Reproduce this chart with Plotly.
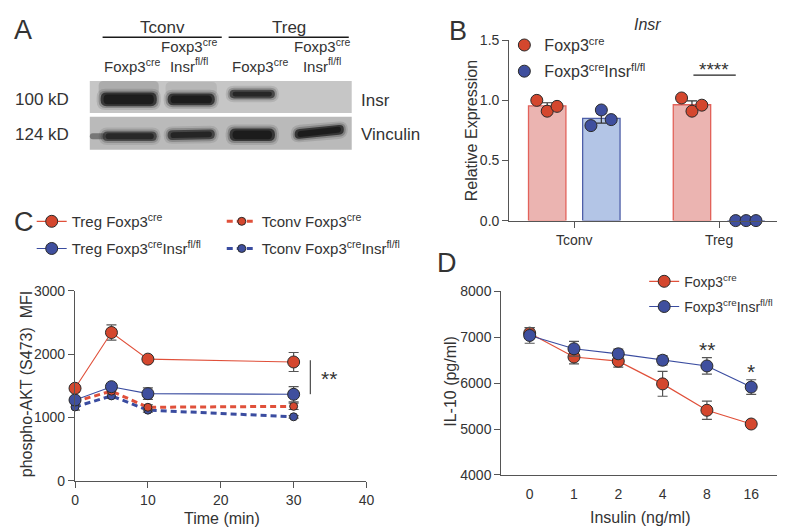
import plotly.graph_objects as go

W, H = 785, 528
FONT = "Liberation Sans, Arial, sans-serif"
TXT = "#333333"
AX = "#555555"
RED = "#d4472e"
RED_LINE = "#e0503a"
BLUE = "#3f4f9e"
BLUE_LINE = "#3a4ca0"
RED_BAR = "#ebb4b1"
RED_BAR_LINE = "#e2625a"
BLUE_BAR = "#b3c5e6"
BLUE_BAR_LINE = "#4e5fa8"


def px(x):
    return x / W


def py(y):
    return 1 - y / H


# ---------------- data ----------------
# Panel B
b_groups = ["Tconv", "Treg"]
b_cre_points = [[1.00, 0.91, 0.95], [1.02, 0.91, 0.96]]
b_ko_points = [[0.79, 0.92, 0.84], [0.0, 0.0, 0.0]]
b_cre_sem = [0.027, 0.032]
b_ko_sem = [0.040, 0.0]

# Panel C
c_time = [0, 5, 10, 30]
c_treg_cre = [1460, 2340, 1920, 1875]
c_treg_cre_sem = [60, 120, 40, 150]
c_treg_ko = [1275, 1485, 1375, 1365]
c_treg_ko_sem = [50, 40, 90, 120]
c_tconv_cre = [1250, 1415, 1160, 1175]
c_tconv_cre_sem = [50, 40, 40, 50]
c_tconv_ko = [1165, 1340, 1115, 1010]
c_tconv_ko_sem = [50, 40, 30, 20]

# Panel D
d_insulin = ["0", "1", "2", "4", "8", "16"]
d_cre = [7090, 6570, 6480, 5985, 5410, 5110]
d_cre_sem = [120, 150, 130, 270, 200, 50]
d_ko = [7040, 6750, 6640, 6500, 6375, 5915]
d_ko_sem = [170, 160, 100, 100, 180, 160]

# Panel A labels
a_groups = ["Tconv", "Treg"]
a_lanes = ["Foxp3<sup>cre</sup>", "Foxp3<sup>cre</sup><br>Insr<sup>fl/fl</sup>",
           "Foxp3<sup>cre</sup>", "Foxp3<sup>cre</sup><br>Insr<sup>fl/fl</sup>"]
a_rows = ["100 kD", "124 kD"]
a_proteins = ["Insr", "Vinculin"]

fig = go.Figure()

# ---------------- Panel B ----------------
b_off = 0.187
b_w = 0.2585
jit = [-0.072, 0.0, 0.068]
cre_mean = [sum(p) / len(p) for p in b_cre_points]
ko_mean = [sum(p) / len(p) for p in b_ko_points]
xb = list(range(len(b_groups)))

fig.add_trace(go.Bar(x=[i - b_off for i in xb], y=cre_mean, width=b_w,
                     marker=dict(color=RED_BAR, line=dict(color=RED_BAR_LINE, width=1.3)),
                     error_y=dict(type="data", array=b_cre_sem, color="#333", thickness=1.2, width=5),
                     showlegend=False, xaxis="x", yaxis="y"))
fig.add_trace(go.Bar(x=[i + b_off for i in xb], y=ko_mean, width=b_w,
                     marker=dict(color=BLUE_BAR, line=dict(color=BLUE_BAR_LINE, width=1.3)),
                     error_y=dict(type="data", array=b_ko_sem, color="#333", thickness=1.2, width=5),
                     showlegend=False, xaxis="x", yaxis="y"))
bx_cre, by_cre, bx_ko, by_ko = [], [], [], []
for i in xb:
    for j, v in enumerate(b_cre_points[i]):
        bx_cre.append(i - b_off + jit[j]); by_cre.append(v)
    for j, v in enumerate(b_ko_points[i]):
        bx_ko.append(i + b_off + jit[j]); by_ko.append(v)
fig.add_trace(go.Scatter(x=bx_cre, y=by_cre, mode="markers", name="Foxp3<sup>cre</sup>",
                         marker=dict(color=RED, size=12, line=dict(color="#2a2a2a", width=1)),
                         cliponaxis=False, legend="legend", xaxis="x", yaxis="y"))
fig.add_trace(go.Scatter(x=bx_ko, y=by_ko, mode="markers", name="Foxp3<sup>cre</sup>Insr<sup>fl/fl</sup>",
                         marker=dict(color=BLUE, size=12, line=dict(color="#2a2a2a", width=1)),
                         cliponaxis=False, legend="legend2", xaxis="x", yaxis="y"))

# ---------------- Panel C ----------------
def c_trace(y, sem, name, color, lcolor, size, dash, lw, leg):
    return go.Scatter(x=c_time, y=y, name=name, mode="lines+markers",
                      line=dict(color=lcolor, width=lw, dash=dash),
                      marker=dict(color=color, size=size, line=dict(color="#2a2a2a", width=1)),
                      error_y=dict(type="data", array=sem, color="#555", thickness=1.2, width=5),
                      cliponaxis=False, legend=leg, xaxis="x2", yaxis="y2")

fig.add_trace(c_trace(c_tconv_ko, c_tconv_ko_sem, "Tconv Foxp3<sup>cre</sup>Insr<sup>fl/fl</sup>",
                      BLUE, BLUE_LINE, 8, "6px,4px", 3, "legend6"))
fig.add_trace(c_trace(c_tconv_cre, c_tconv_cre_sem, "Tconv Foxp3<sup>cre</sup>",
                      RED, RED_LINE, 8, "6px,4px", 3, "legend5"))
fig.add_trace(c_trace(c_treg_ko, c_treg_ko_sem, "Treg Foxp3<sup>cre</sup>Insr<sup>fl/fl</sup>",
                      BLUE, BLUE_LINE, 12, "solid", 1.1, "legend4"))
fig.add_trace(c_trace(c_treg_cre, c_treg_cre_sem, "Treg Foxp3<sup>cre</sup>",
                      RED, RED_LINE, 12, "solid", 1.1, "legend3"))

# ---------------- Panel D ----------------
fig.add_trace(go.Scatter(x=d_insulin, y=d_cre, name="Foxp3<sup>cre</sup>", mode="lines+markers",
                         line=dict(color=RED_LINE, width=1.2),
                         marker=dict(color=RED, size=12, line=dict(color="#2a2a2a", width=1)),
                         error_y=dict(type="data", array=d_cre_sem, color="#555", thickness=1.2, width=5),
                         cliponaxis=False, legend="legend7", xaxis="x3", yaxis="y3"))
fig.add_trace(go.Scatter(x=d_insulin, y=d_ko, name="Foxp3<sup>cre</sup>Insr<sup>fl/fl</sup>", mode="lines+markers",
                         line=dict(color=BLUE_LINE, width=1.2),
                         marker=dict(color=BLUE, size=12, line=dict(color="#2a2a2a", width=1)),
                         error_y=dict(type="data", array=d_ko_sem, color="#555", thickness=1.2, width=5),
                         cliponaxis=False, legend="legend8", xaxis="x3", yaxis="y3"))

# ---------------- axes ----------------
axcommon = dict(showline=True, linecolor=AX, linewidth=1.3, showgrid=False, zeroline=False,
                ticks="outside", ticklen=6, tickwidth=1.2, tickcolor=AX,
                tickfont=dict(family=FONT, size=14, color=TXT))

fig.update_layout(
    xaxis=dict(axcommon, domain=[px(505), px(783)], range=[-0.449, 1.442],
               tickvals=xb, ticktext=b_groups, anchor="y"),
    yaxis=dict(axcommon, domain=[py(211), py(25)], range=[0, 1.5],
               tickvals=[0, 0.5, 1.0, 1.5], ticktext=["0.0", "0.5", "1.0", "1.5"], anchor="x"),
    xaxis2=dict(axcommon, domain=[px(64), px(360)], range=[0, 40],
                tickvals=[0, 10, 20, 30, 40], anchor="y2"),
    yaxis2=dict(axcommon, domain=[py(479.3), py(283.3)], range=[0, 3000],
                tickvals=[0, 1000, 2000, 3000], anchor="x2"),
    xaxis3=dict(axcommon, domain=[px(497), px(782)], type="category",
                categoryorder="array", categoryarray=d_insulin,
                range=[-0.638, 5.696], tickcolor="rgba(0,0,0,0)", anchor="y3"),
    yaxis3=dict(axcommon, domain=[py(473.3), py(284)], range=[4000, 8000],
                tickvals=[4000, 5000, 6000, 7000, 8000], anchor="x3"),
    barmode="overlay",
)

# ---------------- legends ----------------
def leg(mx, my, size=16):
    return dict(x=px(mx - 20), y=py(my), xanchor="left", yanchor="middle",
                bgcolor="rgba(0,0,0,0)", borderwidth=0,
                font=dict(family=FONT, size=size, color=TXT), orientation="v")


fig.update_layout(
    legend=leg(520, 30), legend2=leg(520, 57),
    legend3=leg(40, 212, 15), legend4=leg(40, 240, 15),
    legend5=leg(233, 212, 15), legend6=leg(233, 240, 15),
    legend7=leg(662, 274, 14), legend8=leg(662, 300, 14),
)

# ---------------- annotations & shapes ----------------
ann = []
shapes = []


def text(x, y, t, size=15, xanchor="center", yanchor="middle", angle=0, italic=False):
    ann.append(dict(x=px(x), y=py(y), xref="paper", yref="paper", text=t, showarrow=False,
                    xanchor=xanchor, yanchor=yanchor, textangle=angle,
                    font=dict(family=FONT, size=size, color=TXT,
                              style="italic" if italic else "normal")))


# panel letters
text(0, 14, "A", 27, xanchor="left")
text(453, 15, "B", 27)
text(0, 212, "C", 27, xanchor="left")
text(442, 255, "D", 27)

# panel B titles
text(645, 9, "Insr", 16, italic=True)
text(467, 118, "Relative Expression", 16, angle=-90)
shapes.append(dict(type="line", xref="paper", yref="paper", x0=px(692), x1=px(735),
                   y0=py(61), y1=py(61), line=dict(color="#222", width=1.3)))
text(713, 55, "****", 19)

# panel C titles
text(15, 380, "phospho-AKT (S473)\u00a0\u00a0MFI", 16, angle=-90)
text(213, 518, "Time (min)", 16)
shapes.append(dict(type="line", xref="paper", yref="paper", x0=px(303), x1=px(303),
                   y0=py(355), y1=py(390), line=dict(color=AX, width=1.3)))
text(322, 374, "**", 21)

# panel D titles
text(445, 377, "IL-10 (pg/ml)", 16, angle=-90)
text(638, 517, "Insulin (ng/ml)", 16)
text(706, 344, "**", 21)
text(750, 367, "*", 21)

# ---------------- panel A (western blot) ----------------
group_x = [(92, 213), (220, 342)]
for (x0, x1), g in zip(group_x, a_groups):
    text((x0 + x1) / 2, 12, g, 17)
    shapes.append(dict(type="line", xref="paper", yref="paper", x0=px(x0), x1=px(x1),
                       y0=py(22), y1=py(22), line=dict(color="#1a1a1a", width=1.5)))
lane_x = [122, 180, 252, 315]
for lx, lab in zip(lane_x, a_lanes):
    text(lx, 63, lab, 15, yanchor="bottom")
for yy, lab in zip([86, 122], a_rows):
    text(60, yy, lab, 17, xanchor="right")
for yy, lab in zip([87, 122], a_proteins):
    text(352, yy, lab, 17, xanchor="left")


def rrect(x0, y0, x1, y1, r, color, op, tilt=0.0):
    # rounded rectangle (pixel coords), optional tilt: right end shifted up by tilt px
    r = min(r, (y1 - y0) / 2, (x1 - x0) / 2)

    def P(x, y):
        t = (x - x0) / (x1 - x0) if x1 > x0 else 0
        return f"{px(x):.5f},{py(y - tilt * t):.5f}"
    path = (f"M{P(x0 + r, y0)} L{P(x1 - r, y0)} Q{P(x1, y0)} {P(x1, y0 + r)} "
            f"L{P(x1, y1 - r)} Q{P(x1, y1)} {P(x1 - r, y1)} L{P(x0 + r, y1)} "
            f"Q{P(x0, y1)} {P(x0, y1 - r)} L{P(x0, y0 + r)} Q{P(x0, y0)} {P(x0 + r, y0)} Z")
    shapes.append(dict(type="path", xref="paper", yref="paper", path=path,
                       fillcolor=color, opacity=op, line=dict(width=0), layer="above"))


def band(x0, y0, x1, y1, color="#161616", tilt=0.0, strength=1.0):
    rrect(x0 - 4, y0 - 4, x1 + 4, y1 + 4, 9, color, 0.12 * strength, tilt)
    rrect(x0 - 2, y0 - 2, x1 + 2, y1 + 2, 7, color, 0.25 * strength, tilt)
    rrect(x0, y0, x1, y1, 6, color, 0.7 * strength, tilt)
    rrect(x0 + 3, y0 + 2, x1 - 3, y1 - 2, 4, color, 0.8 * strength, tilt)


# blot backgrounds
rrect(79, 67, 345, 100, 0, "#c6c6c6", 1)
rrect(79, 104, 345, 138, 0, "#bababa", 1)
# smudges above strong Insr bands
rrect(88, 67, 149, 82, 5, "#8c8c8c", 0.45)
rrect(156, 68, 208, 82, 5, "#9a9a9a", 0.35)
# Insr bands
band(90, 79, 147, 93)
band(158, 80, 206, 92)
band(221, 76, 267, 85, strength=0.85)
# Vinculin bands
band(92, 119, 147, 129, strength=0.8)
rrect(79, 121, 95, 127, 3, "#333", 0.5)
band(158, 118, 206, 128, strength=0.85, tilt=1)
band(221, 116, 267, 129, strength=1.0)
band(287, 117, 337, 127, strength=1.0, tilt=5)

fig.update_layout(annotations=ann, shapes=shapes,
                  width=W, height=H, margin=dict(l=0, r=0, t=0, b=0),
                  plot_bgcolor="white", paper_bgcolor="white",
                  font=dict(family=FONT, color=TXT))

fig.write_html("out.html")
